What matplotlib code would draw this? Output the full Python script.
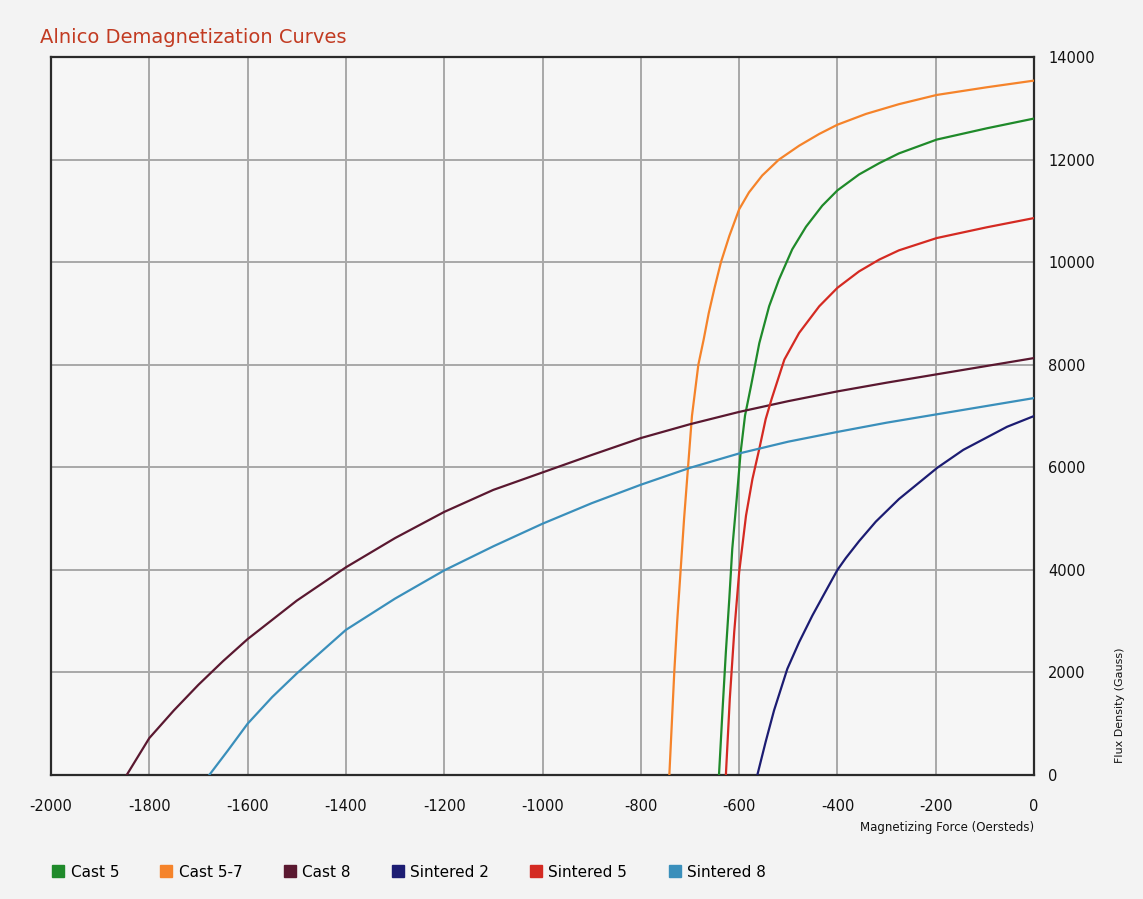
import matplotlib
matplotlib.use("Agg")
import matplotlib.pyplot as plt
from matplotlib.lines import Line2D

# demagnetization curves, H in Oersteds, B in Gauss
cast5_h = [-641, -634, -627, -620, -614, -605, -597, -588, -576, -559, -539, -519, -492, -464, -431,
           -400, -356, -315, -275, -198, -96, 0]
cast5_b = [0, 1230, 2400, 3440, 4410, 5380, 6290, 7010, 7580, 8420, 9140, 9660, 10250, 10690, 11100,
           11400, 11710, 11930, 12120, 12390, 12610, 12800]

cast57_h = [-742, -737, -732, -726, -719, -712, -704, -696, -683, -672, -662, -650, -637, -620, -600,
            -580, -553, -519, -478, -437, -400, -342, -275, -198, -96, 0]
cast57_b = [0, 1000, 2000, 3000, 4000, 5000, 6000, 7000, 8000, 8500, 9000, 9500, 10000, 10510, 11030,
            11360, 11690, 12000, 12270, 12500, 12680, 12890, 13080, 13260, 13410, 13540]

cast8_h = [-1846, -1800, -1750, -1700, -1650, -1600, -1500, -1400, -1300, -1200, -1100, -1000, -900,
           -800, -700, -600, -500, -400, -300, -200, -100, 0]
cast8_b = [0, 720, 1260, 1760, 2220, 2650, 3400, 4050, 4620, 5130, 5560, 5900, 6240,
           6570, 6840, 7080, 7290, 7480, 7650, 7810, 7970, 8130]

sint2_h = [-563, -546, -529, -502, -478, -451, -427, -400, -383, -356, -322, -275, -197, -144, -55, 0]
sint2_b = [0, 650, 1260, 2070, 2590, 3110, 3530, 4000, 4230, 4560, 4940, 5380, 5990, 6340, 6790, 7000]

sint5_h = [-627, -619, -610, -600, -586, -573, -559, -546, -534, -508, -478, -437, -400, -356, -315,
           -275, -198, -96, 0]
sint5_b = [0, 1490, 2790, 3950, 5060, 5770, 6360, 6940, 7330, 8100, 8620, 9140, 9500, 9820, 10050,
           10230, 10470, 10680, 10860]

sint8_h = [-1678, -1640, -1600, -1550, -1500, -1400, -1300, -1200, -1100, -1000, -900, -800, -700,
           -600, -500, -400, -300, -200, -100, 0]
sint8_b = [0, 480, 1000, 1520, 1980, 2830, 3440, 3990, 4460, 4900, 5300, 5660, 5990,
           6270, 6500, 6690, 6870, 7030, 7190, 7350]

series = [
    ("Cast 5", cast5_h, cast5_b, "#1f8a2a"),
    ("Cast 5-7", cast57_h, cast57_b, "#f5832a"),
    ("Cast 8", cast8_h, cast8_b, "#5a1830"),
    ("Sintered 2", sint2_h, sint2_b, "#1c1c72"),
    ("Sintered 5", sint5_h, sint5_b, "#d42a22"),
    ("Sintered 8", sint8_h, sint8_b, "#3a8fbb"),
]

x_ticks = list(range(-2000, 1, 200))
y_ticks = list(range(0, 14001, 2000))


def plot_curves():
    fig = plt.figure(figsize=(11.43, 8.99), dpi=100, facecolor="#f3f3f3")
    ax = fig.add_axes([0.0446, 0.1379, 0.8601, 0.7987], facecolor="#f6f6f6")

    # gray grid, drawn under the curves
    for x in x_ticks:
        ax.axvline(x, color="#a8a8a8", lw=1.4, zorder=1)
    for y in y_ticks:
        ax.axhline(y, color="#a8a8a8", lw=1.4, zorder=1)

    handles = []
    for name, h, b, color in series:
        ax.plot(h, b, color=color, lw=1.6, zorder=3, solid_joinstyle="round")
        handles.append(Line2D([], [], ls="none", marker="s", markersize=8,
                              markerfacecolor=color, markeredgecolor=color, label=name))

    ax.set_xlim(-2000, 0)
    ax.set_ylim(0, 14000)
    ax.set_xticks(x_ticks)
    ax.set_yticks(y_ticks)
    ax.set_xticklabels([str(v) for v in x_ticks])
    ax.set_yticklabels([str(v) for v in y_ticks])
    ax.yaxis.tick_right()
    ax.tick_params(axis="both", length=0, labelsize=10.5, colors="#111111")
    ax.tick_params(axis="x", pad=17)
    ax.tick_params(axis="y", pad=10)
    for sp in ax.spines.values():
        sp.set_color("#2a2a2a")
        sp.set_linewidth(1.6)

    fig.text(0.035, 0.958, "Alnico Demagnetization Curves", color="#c23b22",
             fontsize=14, ha="left", va="center")
    fig.text(0.905, 0.079, "Magnetizing Force (Oersteds)", fontsize=8.5,
             ha="right", va="center", color="#111111")
    fig.text(0.98, 0.216, "Flux Density (Gauss)", fontsize=8, rotation=90,
             ha="center", va="center", color="#111111")

    fig.legend(handles=handles, loc="center left", bbox_to_anchor=(0.035, 0.03),
               ncol=6, frameon=False, fontsize=11, handlelength=0.6,
               handletextpad=0.5, columnspacing=2.8)

    fig.savefig("out.png", dpi=100, facecolor=fig.get_facecolor())


if __name__ == "__main__":
    plot_curves()
